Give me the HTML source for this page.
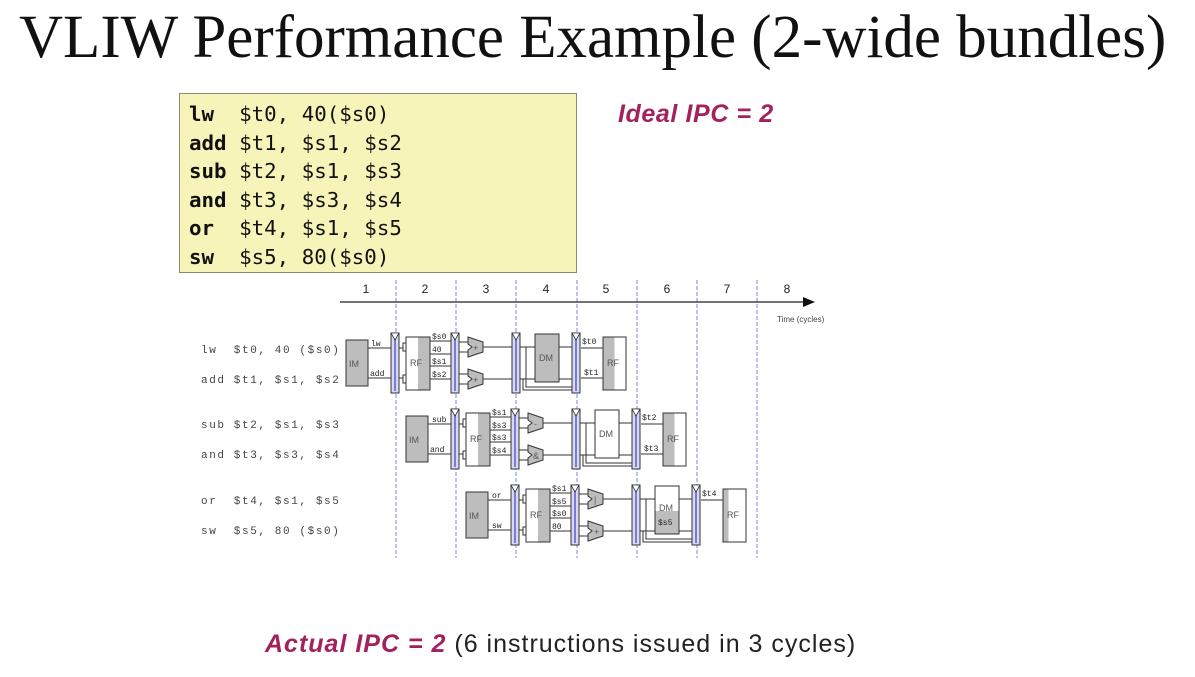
<!DOCTYPE html>
<html><head><meta charset="utf-8"><style>
html,body{margin:0;padding:0;background:#fff;}
body{width:1195px;height:677px;position:relative;overflow:hidden;}
.t{position:absolute;white-space:pre;}
</style></head><body>
<div class="t" style="left:19px;top:-2px;font-family:'Liberation Serif',serif;font-size:61px;line-height:80px;color:#111;">VLIW Performance Example (2-wide bundles)</div>
<div style="position:absolute;left:179px;top:93px;width:396px;height:178px;background:#f7f4b9;border:1px solid #8a8a70;"></div>
<div class="t" style="left:189px;top:100px;font-family:'DejaVu Sans Mono',monospace;font-size:20.8px;line-height:28.6px;color:#111;"><b>lw</b>  $t0, 40($s0)
<b>add</b> $t1, $s1, $s2
<b>sub</b> $t2, $s1, $s3
<b>and</b> $t3, $s3, $s4
<b>or</b>  $t4, $s1, $s5
<b>sw</b>  $s5, 80($s0)</div>
<div class="t" style="left:618px;top:100px;font-family:'Liberation Sans',sans-serif;font-style:italic;font-weight:bold;font-size:25px;letter-spacing:0.6px;color:#a3225c;">Ideal IPC = 2</div>
<div class="t" style="left:265px;top:630px;font-family:'Liberation Sans',sans-serif;font-size:25px;letter-spacing:1px;color:#222;"><span style="font-style:italic;font-weight:bold;color:#a3225c;">Actual IPC = 2</span> (6 instructions issued in 3 cycles)</div>

<svg width="1195" height="677" style="position:absolute;left:0;top:0" xmlns="http://www.w3.org/2000/svg" font-family="Liberation Sans, sans-serif">
<defs>
<g id="alu"><polygon points="0,0 15,5 15,15 0,20 0,13 4,10 0,7" fill="#bdbdbd" stroke="#333" stroke-width="1"/></g>
<g id="reg"><rect x="0" y="0" width="8" height="60" fill="#d9d9f0" stroke="#333"/><line x1="4" y1="2" x2="4" y2="58" stroke="#7a7ae0" stroke-width="2"/><polygon points="0,0 8,0 4,7" fill="#fff" stroke="#333" stroke-width="0.8"/></g>
</defs>
<g stroke="#8080f0" stroke-width="1" stroke-dasharray="4,2">
<line x1="396" y1="280" x2="396" y2="558"/><line x1="456" y1="280" x2="456" y2="558"/><line x1="516" y1="280" x2="516" y2="558"/><line x1="577" y1="280" x2="577" y2="558"/><line x1="637" y1="280" x2="637" y2="558"/><line x1="697" y1="280" x2="697" y2="558"/><line x1="757" y1="280" x2="757" y2="558"/>
</g>
<line x1="340" y1="302" x2="805" y2="302" stroke="#222" stroke-width="1.2"/>
<polygon points="803,297 815,302 803,307" fill="#111"/>
<g font-size="12" fill="#222" text-anchor="middle">
<text x="366" y="293">1</text><text x="425" y="293">2</text><text x="486" y="293">3</text><text x="546" y="293">4</text><text x="606" y="293">5</text><text x="667" y="293">6</text><text x="727" y="293">7</text><text x="787" y="293">8</text>
</g>
<text x="777" y="322" font-size="8" fill="#444">Time (cycles)</text>
<g font-family="Liberation Mono, monospace" font-size="11" fill="#444" letter-spacing="1.6">
<text x="201" y="353">lw&#160; $t0, 40 ($s0)</text><text x="201" y="383">add $t1, $s1, $s2</text>
<text x="201" y="428">sub $t2, $s1, $s3</text><text x="201" y="458">and $t3, $s3, $s4</text>
<text x="201" y="504">or&#160; $t4, $s1, $s5</text><text x="201" y="534">sw&#160; $s5, 80 ($s0)</text>
</g>

<g transform="translate(346,333)" stroke="#333" stroke-width="1" fill="none">
<line x1="22" y1="15" x2="45" y2="15"/><line x1="22" y1="45" x2="45" y2="45"/>
<line x1="53" y1="15" x2="60" y2="15"/><line x1="53" y1="45" x2="60" y2="45"/>
<line x1="84" y1="8" x2="105" y2="8"/><line x1="84" y1="21" x2="105" y2="21"/><line x1="84" y1="33" x2="105" y2="33"/><line x1="84" y1="46" x2="105" y2="46"/>
<line x1="113" y1="9" x2="122" y2="9"/><line x1="113" y1="19" x2="122" y2="19"/><line x1="113" y1="41" x2="122" y2="41"/><line x1="113" y1="51" x2="122" y2="51"/>
<line x1="137" y1="14" x2="166" y2="14"/><line x1="137" y1="46" x2="166" y2="46"/>
<line x1="174" y1="14" x2="189" y2="14"/><line x1="213" y1="14" x2="226" y2="14"/>
<line x1="174" y1="46" x2="226" y2="46"/>
<polyline points="180,14 180,54 226,54"/><polyline points="177,46 177,57 226,57"/>
<line x1="235" y1="15" x2="257" y2="15"/><line x1="235" y1="45" x2="257" y2="45"/>
<rect x="0" y="7" width="22" height="46" fill="#bdbdbd"/>
<rect x="57" y="10" width="3" height="8" fill="#fff"/><rect x="57" y="42" width="3" height="8" fill="#fff"/>
<rect x="60" y="4" width="24" height="53" fill="#fff"/><rect x="72" y="4.5" width="11.5" height="52" fill="#bdbdbd" stroke="none"/><rect x="60" y="4" width="24" height="53"/>
<use href="#reg" x="45" y="0"/><use href="#reg" x="105" y="0"/><use href="#reg" x="166" y="0"/><use href="#reg" x="226" y="0"/>
<use href="#alu" x="122" y="4"/><use href="#alu" x="122" y="36"/>
<rect x="189" y="1" width="24" height="48" fill="#bdbdbd"/>
<rect x="257" y="4" width="23" height="53" fill="#fff"/><rect x="257.5" y="4.5" width="11" height="52" fill="#bdbdbd" stroke="none"/><rect x="257" y="4" width="23" height="53"/>
<g stroke="none" fill="#555" font-size="9"><text x="3" y="34">IM</text><text x="64" y="33">RF</text><text x="193" y="28">DM</text><text x="261" y="33">RF</text><text x="127" y="18">+</text><text x="127" y="50">+</text></g>
<g stroke="none" fill="#222" font-family="Liberation Mono, monospace" font-size="8"><text x="25" y="13">lw</text><text x="24" y="43">add</text><text x="86" y="6">$s0</text><text x="86" y="19">40</text><text x="86" y="31">$s1</text><text x="86" y="44">$s2</text><text x="236" y="11">$t0</text><text x="238" y="42">$t1</text></g>
</g>

<g transform="translate(406,409)" stroke="#333" stroke-width="1" fill="none">
<line x1="22" y1="15" x2="45" y2="15"/><line x1="22" y1="45" x2="45" y2="45"/>
<line x1="53" y1="15" x2="60" y2="15"/><line x1="53" y1="45" x2="60" y2="45"/>
<line x1="84" y1="8" x2="105" y2="8"/><line x1="84" y1="21" x2="105" y2="21"/><line x1="84" y1="33" x2="105" y2="33"/><line x1="84" y1="46" x2="105" y2="46"/>
<line x1="113" y1="9" x2="122" y2="9"/><line x1="113" y1="19" x2="122" y2="19"/><line x1="113" y1="41" x2="122" y2="41"/><line x1="113" y1="51" x2="122" y2="51"/>
<line x1="137" y1="14" x2="166" y2="14"/><line x1="137" y1="46" x2="166" y2="46"/>
<line x1="174" y1="14" x2="189" y2="14"/><line x1="213" y1="14" x2="226" y2="14"/>
<line x1="174" y1="46" x2="226" y2="46"/>
<polyline points="180,14 180,54 226,54"/><polyline points="177,46 177,57 226,57"/>
<line x1="235" y1="15" x2="257" y2="15"/><line x1="235" y1="45" x2="257" y2="45"/>
<rect x="0" y="7" width="22" height="46" fill="#bdbdbd"/>
<rect x="57" y="10" width="3" height="8" fill="#fff"/><rect x="57" y="42" width="3" height="8" fill="#fff"/>
<rect x="60" y="4" width="24" height="53" fill="#fff"/><rect x="72" y="4.5" width="11.5" height="52" fill="#bdbdbd" stroke="none"/><rect x="60" y="4" width="24" height="53"/>
<use href="#reg" x="45" y="0"/><use href="#reg" x="105" y="0"/><use href="#reg" x="166" y="0"/><use href="#reg" x="226" y="0"/>
<use href="#alu" x="122" y="4"/><use href="#alu" x="122" y="36"/>
<rect x="189" y="1" width="24" height="48" fill="#fff"/>
<rect x="257" y="4" width="23" height="53" fill="#fff"/><rect x="257.5" y="4.5" width="11" height="52" fill="#bdbdbd" stroke="none"/><rect x="257" y="4" width="23" height="53"/>
<g stroke="none" fill="#555" font-size="9"><text x="3" y="34">IM</text><text x="64" y="33">RF</text><text x="193" y="28">DM</text><text x="261" y="33">RF</text><text x="128" y="18">-</text><text x="127" y="50">&amp;</text></g>
<g stroke="none" fill="#222" font-family="Liberation Mono, monospace" font-size="8"><text x="26" y="13">sub</text><text x="24" y="43">and</text><text x="86" y="6">$s1</text><text x="86" y="19">$s3</text><text x="86" y="31">$s3</text><text x="86" y="44">$s4</text><text x="236" y="11">$t2</text><text x="238" y="42">$t3</text></g>
</g>

<g transform="translate(466,485)" stroke="#333" stroke-width="1" fill="none">
<line x1="22" y1="15" x2="45" y2="15"/><line x1="22" y1="45" x2="45" y2="45"/>
<line x1="53" y1="15" x2="60" y2="15"/><line x1="53" y1="45" x2="60" y2="45"/>
<line x1="84" y1="8" x2="105" y2="8"/><line x1="84" y1="21" x2="105" y2="21"/><line x1="84" y1="33" x2="105" y2="33"/><line x1="84" y1="46" x2="105" y2="46"/>
<line x1="113" y1="9" x2="122" y2="9"/><line x1="113" y1="19" x2="122" y2="19"/><line x1="113" y1="41" x2="122" y2="41"/><line x1="113" y1="51" x2="122" y2="51"/>
<line x1="137" y1="14" x2="166" y2="14"/><line x1="137" y1="46" x2="166" y2="46"/>
<line x1="174" y1="14" x2="189" y2="14"/><line x1="213" y1="14" x2="226" y2="14"/>
<line x1="174" y1="46" x2="226" y2="46"/>
<polyline points="180,14 180,54 226,54"/><polyline points="177,46 177,57 226,57"/>
<line x1="235" y1="15" x2="257" y2="15"/>
<rect x="0" y="7" width="22" height="46" fill="#bdbdbd"/>
<rect x="57" y="10" width="3" height="8" fill="#fff"/><rect x="57" y="42" width="3" height="8" fill="#fff"/>
<rect x="60" y="4" width="24" height="53" fill="#fff"/><rect x="72" y="4.5" width="11.5" height="52" fill="#bdbdbd" stroke="none"/><rect x="60" y="4" width="24" height="53"/>
<use href="#reg" x="45" y="0"/><use href="#reg" x="105" y="0"/><use href="#reg" x="166" y="0"/><use href="#reg" x="226" y="0"/>
<use href="#alu" x="122" y="4"/><use href="#alu" x="122" y="36"/>
<rect x="189" y="1" width="24" height="48" fill="#fff"/><rect x="189.5" y="26" width="23" height="22.5" fill="#bdbdbd" stroke="none"/><rect x="189" y="1" width="24" height="48"/>
<rect x="257" y="4" width="23" height="53" fill="#fff"/><rect x="257.5" y="4.5" width="5" height="52" fill="#bdbdbd" stroke="none"/><rect x="257" y="4" width="23" height="53"/>
<g stroke="none" fill="#555" font-size="9"><text x="3" y="34">IM</text><text x="64" y="33">RF</text><text x="193" y="26">DM</text><text x="261" y="33">RF</text><text x="128" y="18">|</text><text x="128" y="50">+</text></g>
<g stroke="none" fill="#222" font-family="Liberation Mono, monospace" font-size="8"><text x="26" y="13">or</text><text x="26" y="43">sw</text><text x="86" y="6">$s1</text><text x="86" y="19">$s5</text><text x="86" y="31">$s0</text><text x="86" y="44">80</text><text x="192" y="40">$s5</text><text x="236" y="11">$t4</text></g>
</g>
</svg>
</body></html>
